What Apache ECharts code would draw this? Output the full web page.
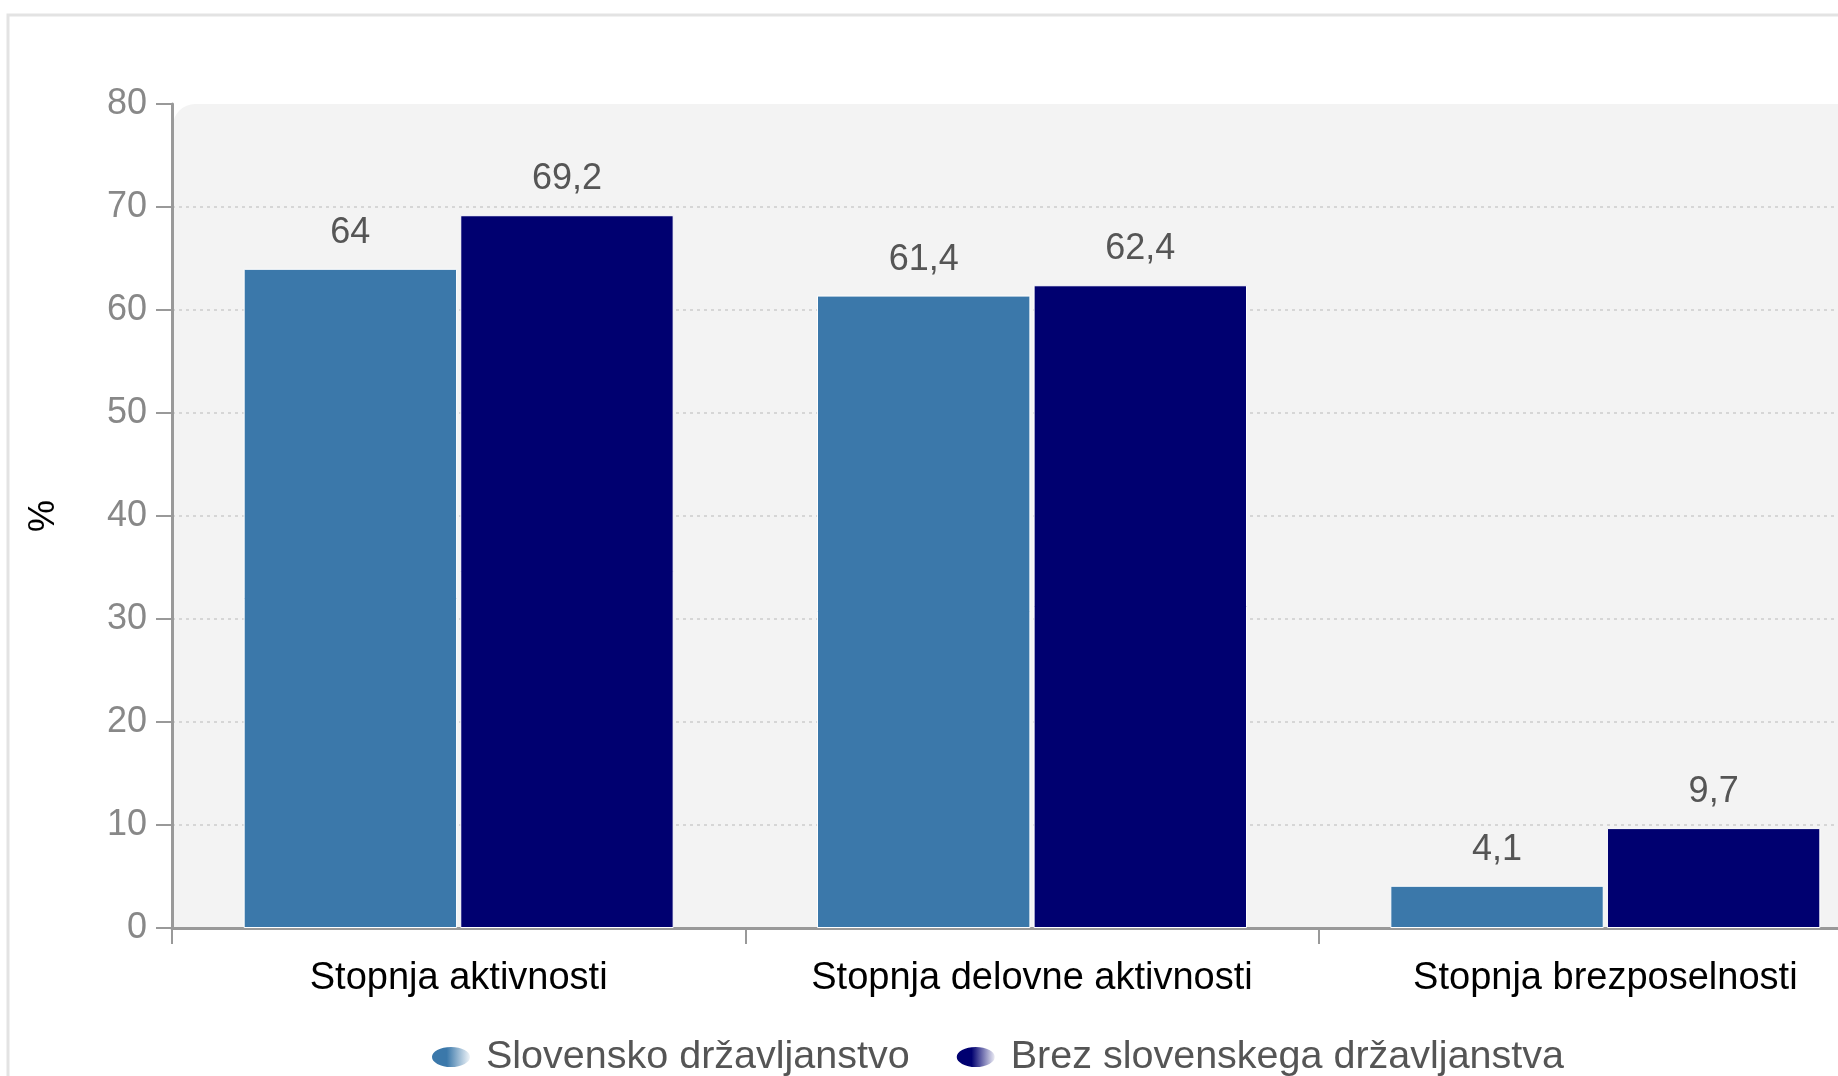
<!DOCTYPE html>
<html>
<head>
<meta charset="utf-8">
<script src="https://cdn.jsdelivr.net/npm/echarts@6/dist/echarts.min.js"></script>
<style>
html,body{margin:0;padding:0;background:#fff;}
#main{width:1838px;height:1076px;}
</style>
</head>
<body>
<div id="main"></div>
<script>
var categories = ['Stopnja aktivnosti', 'Stopnja delovne aktivnosti', 'Stopnja brezposelnosti'];
var seriesNames = ['Slovensko državljanstvo', 'Brez slovenskega državljanstva'];
var slovensko = [64, 61.4, 4.1];
var brez = [69.2, 62.4, 9.7];
var yTicks = {min: 0, max: 80, interval: 10};
var colors = ['#3b78aa', '#000070'];

var FONT = 'Liberation Sans, Arial, sans-serif';
var chart = echarts.init(document.getElementById('main'));

function fmt(p) { return String(p.value).replace('.', ','); }
function legendGrad(c) {
  return new echarts.graphic.LinearGradient(0, 0, 1, 0, [
    {offset: 0, color: c}, {offset: 0.4, color: c}, {offset: 1, color: '#ffffff'}
  ]);
}

var option = {
  backgroundColor: '#ffffff',
  animation: false,
  graphic: [
    {type: 'rect', z: -10, shape: {x: 8, y: 15, width: 2000, height: 2000},
     style: {fill: 'none', stroke: '#e3e3e3', lineWidth: 3}},
    {type: 'rect', z: -5, shape: {x: 173, y: 104, width: 1800, height: 824, r: [22, 0, 0, 0]},
     style: {fill: '#f3f3f3'}}
  ],
  grid: {left: 172, width: 1720, top: 104, bottom: 148, containLabel: false, outerBoundsMode: 'none'},
  legend: {
    left: 425, top: 1032,
    itemWidth: 40, itemHeight: 22, itemGap: 45,
    icon: 'path://M0,11 A20,11 0 1,0 40,11 A20,11 0 1,0 0,11 Z',
    textStyle: {fontFamily: FONT, fontSize: 39.5, color: '#555', padding: [0, 0, 0, 10]},
    data: [
      {name: seriesNames[0], itemStyle: {color: legendGrad(colors[0])}},
      {name: seriesNames[1], itemStyle: {color: legendGrad(colors[1])}}
    ]
  },
  xAxis: {
    type: 'category',
    data: categories,
    axisLine: {show: true, lineStyle: {color: '#999', width: 3}},
    axisTick: {show: true, length: 16, lineStyle: {color: '#999', width: 2}},
    axisLabel: {interval: 0, fontFamily: FONT, fontSize: 38, color: '#000', margin: 32},
    splitLine: {show: false}
  },
  yAxis: {
    type: 'value',
    min: yTicks.min, max: yTicks.max, interval: yTicks.interval,
    name: '%',
    nameLocation: 'middle',
    nameRotate: 90,
    nameGap: 110,
    nameTextStyle: {fontFamily: FONT, fontSize: 36, color: '#000'},
    axisLine: {show: true, lineStyle: {color: '#999', width: 3}},
    axisTick: {show: true, length: 16, lineStyle: {color: '#999', width: 2}},
    axisLabel: {fontFamily: FONT, fontSize: 36, color: '#888', margin: 25},
    splitLine: {show: true, showMinLine: false, showMaxLine: false,
      lineStyle: {color: '#d6d6d6', width: 2, type: [3, 4]}}
  },
  series: [
    {
      name: seriesNames[0], type: 'bar', data: slovensko,
      barCategoryGap: '25%', barGap: '1.5%',
      itemStyle: {color: colors[0], borderColor: '#ffffff', borderWidth: 1},
      label: {show: true, position: 'top', distance: 18, formatter: fmt,
        fontFamily: FONT, fontSize: 36, color: '#555'}
    },
    {
      name: seriesNames[1], type: 'bar', data: brez,
      barCategoryGap: '25%', barGap: '1.5%',
      itemStyle: {color: colors[1], borderColor: '#ffffff', borderWidth: 1},
      label: {show: true, position: 'top', distance: 18, formatter: fmt,
        fontFamily: FONT, fontSize: 36, color: '#555'}
    }
  ]
};
chart.setOption(option);
</script>
</body>
</html>
